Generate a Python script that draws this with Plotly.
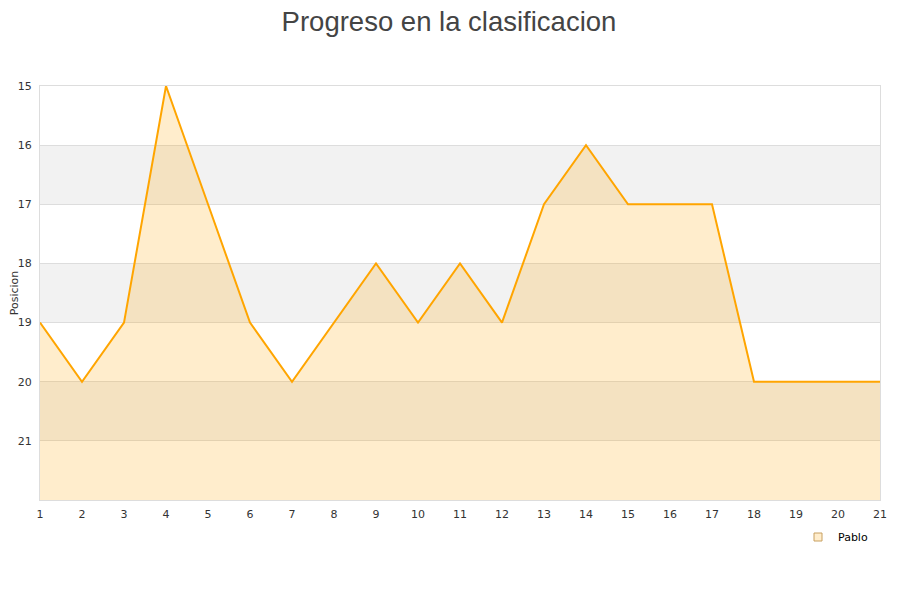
import plotly.graph_objects as go

jornadas = list(range(1, 22))
posicion = [19, 20, 19, 15, 17, 19, 20, 19, 18, 19, 18, 19, 17, 16, 17, 17, 17, 20, 20, 20, 20]
y_ticks = [15, 16, 17, 18, 19, 20, 21]
y_bottom = 22
bands = [(16, 17), (18, 19), (20, 21)]

fig = go.Figure()
fig.add_trace(go.Scatter(
    x=jornadas, y=[y_bottom] * len(jornadas), mode="lines",
    line=dict(width=0), showlegend=False, hoverinfo="skip"))
fig.add_trace(go.Scatter(
    x=jornadas, y=posicion, mode="lines",
    line=dict(color="#FFA500", width=2),
    fill="tonexty", fillcolor="rgba(255,165,0,0.2)",
    showlegend=False, hoverinfo="x+y"))
fig.add_trace(go.Scatter(
    x=[None], y=[None], mode="markers", name="Pablo",
    marker=dict(symbol="square", size=8, color="#FFEDCC",
                line=dict(color="#C8A060", width=1)),
    showlegend=True))

for a, b in bands:
    fig.add_shape(type="rect", xref="paper", yref="y", x0=0, x1=1, y0=a, y1=b,
                  fillcolor="#F2F2F2", line=dict(width=0), layer="below")

# page body has an 8px margin, so the figure is 892x592 and offset by 8px
fig.update_layout(
    width=892, height=592,
    paper_bgcolor="white", plot_bgcolor="white",
    margin=dict(l=32, r=20, t=78, b=100, autoexpand=False),
    title=dict(text="Progreso en la clasificacion", xref="container",
               x=(449 - 8) / 892, xanchor="center",
               y=1 - 4 / 592, yanchor="top", pad=dict(t=0, b=0),
               font=dict(family="Liberation Sans, Arial, sans-serif", size=27.5, color="#444444")),
    font=dict(family="DejaVu Sans, sans-serif", size=11, color="#333333"),
    legend=dict(x=(798 - 40) / 840, y=(500 - 537) / 414, xanchor="left", yanchor="middle",
                font=dict(size=11, color="#000000"), bgcolor="rgba(0,0,0,0)",
                itemwidth=30),
    xaxis=dict(range=[1, 21], tickmode="array", tickvals=jornadas,
               showgrid=False, zeroline=False, showline=True, linecolor="#DDDDDD",
               mirror=True, ticks="", automargin=False, ticklabelstandoff=4,
               tickfont=dict(size=11, color="#333333")),
    yaxis=dict(range=[22, 15], tickmode="array", tickvals=y_ticks,
               showgrid=True, gridcolor="#DDDDDD", zeroline=False,
               showline=True, linecolor="#DDDDDD", mirror=True, ticks="",
               automargin=False, ticklabelstandoff=5,
               title=dict(text="Posicion", font=dict(size=11, color="#333333"), standoff=4),
               tickfont=dict(size=11, color="#333333")),
)

fig.write_html("out.html")
